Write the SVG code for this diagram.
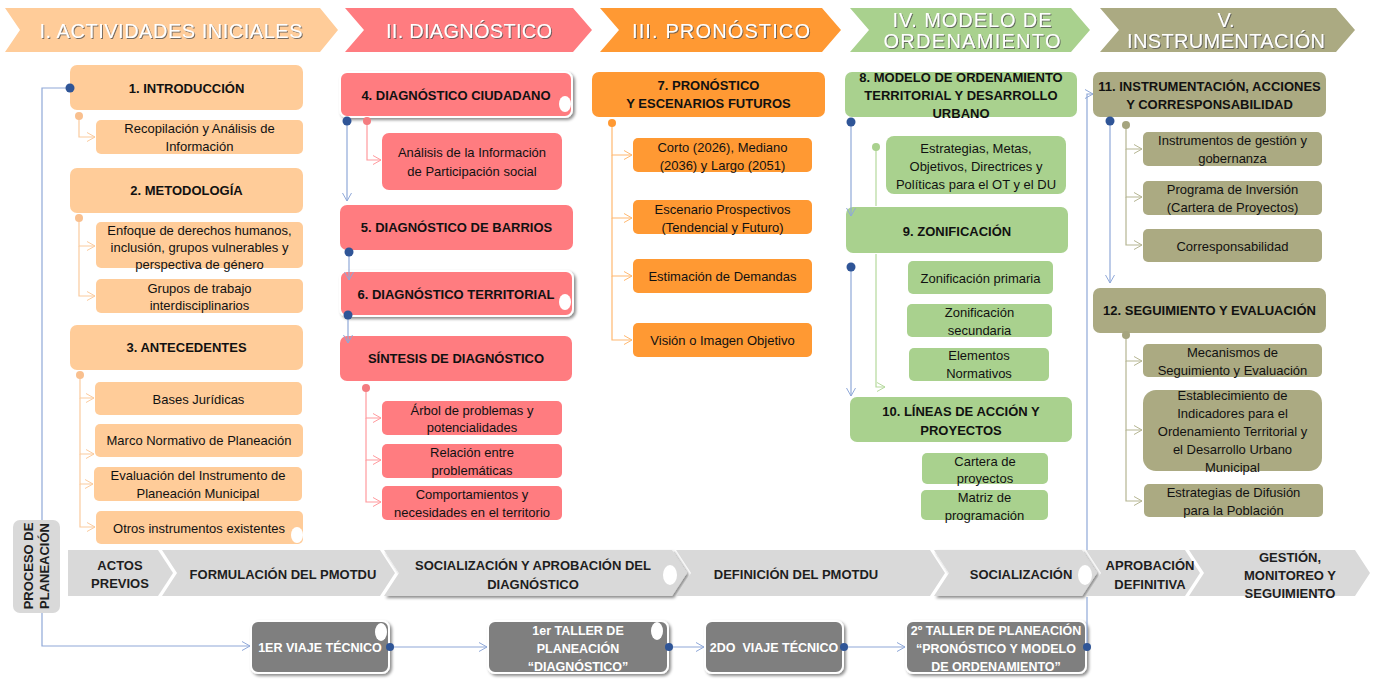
<svg xmlns="http://www.w3.org/2000/svg" width="1379" height="680" viewBox="0 0 1379 680">
<style>
text{font-family:"Liberation Sans",Arial,sans-serif;text-anchor:middle}
.hd{font-size:20px;fill:#fff;filter:url(#ts)}
.h{font-size:13px;font-weight:bold;fill:#111}
.t{font-size:13px;fill:#111}
.bd{font-size:13px;font-weight:bold;fill:#1e1e1e}
.w{font-size:12.5px;font-weight:bold;fill:#fff}
.pe{fill:#FFCC99}.pk{fill:#FF7C80}.or{fill:#FF9933}.gr{fill:#A9D18E}.ol{fill:#ABAA82}
.band{fill:#D9D9D9}
.gb{fill:#7F7F7F;stroke:#fff;stroke-width:2;filter:url(#sh)}
.cb{fill:none;stroke:#8FA8D8;stroke-width:1.2}
.cpe{fill:none;stroke:#FBCB9E;stroke-width:1.2}
.cpk{fill:none;stroke:#FF9A9D;stroke-width:1.2}
.cor{fill:none;stroke:#FFB870;stroke-width:1.2}
.cgr{fill:none;stroke:#B5D99C;stroke-width:1.2}
.col{fill:none;stroke:#B5B592;stroke-width:1.2}
.el{fill:#fff}
</style>
<defs>
<filter id="ts" x="-5%" y="-30%" width="110%" height="160%"><feDropShadow dx="1" dy="1" stdDeviation="0.6" flood-color="#555" flood-opacity="0.8"/></filter>
<filter id="sh" x="-10%" y="-20%" width="120%" height="150%"><feDropShadow dx="2" dy="2" stdDeviation="1.8" flood-color="#000" flood-opacity="0.45"/></filter>
<marker id="aB" markerWidth="10" markerHeight="10" refX="9" refY="5" orient="auto" markerUnits="userSpaceOnUse"><path d="M1,0.5 L9,5 L1,9.5" fill="none" stroke="#8FA8D8" stroke-width="1"/></marker>
<marker id="aPe" markerWidth="10" markerHeight="10" refX="9" refY="5" orient="auto" markerUnits="userSpaceOnUse"><path d="M1,0.5 L9,5 L1,9.5" fill="none" stroke="#FBCB9E" stroke-width="1"/></marker>
<marker id="aPk" markerWidth="10" markerHeight="10" refX="9" refY="5" orient="auto" markerUnits="userSpaceOnUse"><path d="M1,0.5 L9,5 L1,9.5" fill="none" stroke="#FF9A9D" stroke-width="1"/></marker>
<marker id="aOr" markerWidth="10" markerHeight="10" refX="9" refY="5" orient="auto" markerUnits="userSpaceOnUse"><path d="M1,0.5 L9,5 L1,9.5" fill="none" stroke="#FFB870" stroke-width="1"/></marker>
<marker id="aGr" markerWidth="10" markerHeight="10" refX="9" refY="5" orient="auto" markerUnits="userSpaceOnUse"><path d="M1,0.5 L9,5 L1,9.5" fill="none" stroke="#B5D99C" stroke-width="1"/></marker>
<marker id="aOl" markerWidth="10" markerHeight="10" refX="9" refY="5" orient="auto" markerUnits="userSpaceOnUse"><path d="M1,0.5 L9,5 L1,9.5" fill="none" stroke="#B5B592" stroke-width="1"/></marker>
</defs>
<rect width="1379" height="680" fill="#fff"/>

<!-- Phase headers -->
<g id="phase1"><polygon points="5,8 320,8 338,30 320,52 5,52 20,30" fill="#FFCC99"/><text class="hd" x="171" y="38" textLength="263">I. ACTIVIDADES INICIALES</text></g>
<g id="phase2"><polygon points="345,8 573,8 592,30 573,52 345,52 364,30" fill="#FF7C80"/><text class="hd" x="469" y="38" textLength="166">II. DIAGNÓSTICO</text></g>
<g id="phase3"><polygon points="600,8 822,8 841,30 822,52 600,52 619,30" fill="#FF9933"/><text class="hd" x="721" y="38" textLength="178">III. PRONÓSTICO</text></g>
<g id="phase4"><polygon points="850,8 1071,8 1090,30 1071,52 850,52 869,30" fill="#A9D18E"/><text class="hd" x="972" y="27" textLength="159">IV. MODELO DE</text><text class="hd" x="972" y="48" textLength="177">ORDENAMIENTO</text></g>
<g id="phase5"><polygon points="1100,8 1336,8 1355,30 1336,52 1100,52 1119,30" fill="#ABAA82"/><text class="hd" x="1226" y="27">V.</text><text class="hd" x="1226" y="48" textLength="198">INSTRUMENTACIÓN</text></g>

<!-- Column I -->
<g id="n1"><rect class="pe" x="70" y="65" width="233" height="45" rx="7"/><text class="h" x="186.5" y="92.5">1. INTRODUCCIÓN</text></g>
<g id="n1a"><rect class="pe" x="96" y="120" width="207" height="34" rx="5"/><text class="t" x="199.5" y="132.5">Recopilación y Análisis de</text><text class="t" x="199.5" y="150.5">Información</text></g>
<g id="n2"><rect class="pe" x="70" y="168" width="233" height="45" rx="7"/><text class="h" x="186.5" y="195">2. METODOLOGÍA</text></g>
<g id="n2a"><rect class="pe" x="96" y="222" width="207" height="46" rx="5"/><text class="t" x="199.5" y="234.5">Enfoque de derechos humanos,</text><text class="t" x="199.5" y="251.5">inclusión, grupos vulnerables y</text><text class="t" x="199.5" y="268.5">perspectiva de género</text></g>
<g id="n2b"><rect class="pe" x="96" y="279" width="207" height="34" rx="5"/><text class="t" x="199.5" y="292.5">Grupos de trabajo</text><text class="t" x="199.5" y="309.5">interdisciplinarios</text></g>
<g id="n3"><rect class="pe" x="70" y="325" width="233" height="45" rx="7"/><text class="h" x="186.5" y="352">3. ANTECEDENTES</text></g>
<g id="n3a"><rect class="pe" x="95" y="382" width="207" height="33" rx="5"/><text class="t" x="198.5" y="403.5">Bases Jurídicas</text></g>
<g id="n3b"><rect class="pe" x="95" y="424" width="208" height="33" rx="5"/><text class="t" x="199" y="444.5">Marco Normativo de Planeación</text></g>
<g id="n3c"><rect class="pe" x="94" y="467" width="208" height="34" rx="5"/><text class="t" x="198" y="479.5">Evaluación del Instrumento de</text><text class="t" x="198" y="497.5">Planeación Municipal</text></g>
<g id="n3d"><rect class="pe" x="96" y="511" width="207" height="33" rx="5"/><text class="t" x="199" y="532.5">Otros instrumentos existentes</text><ellipse class="el" cx="297" cy="535" rx="6" ry="8"/></g>

<!-- Column II -->
<g id="n4"><rect class="pk" x="340" y="72" width="232" height="45" rx="7" stroke="#fff" stroke-width="2" filter="url(#sh)"/><text class="h" x="456" y="99.5">4. DIAGNÓSTICO CIUDADANO</text><ellipse class="el" cx="565" cy="104" rx="6" ry="8"/></g>
<g id="n4a"><rect class="pk" x="382" y="133" width="180" height="57" rx="7"/><text class="t" x="472" y="156.5">Análisis de la Información</text><text class="t" x="472" y="175.5">de Participación social</text></g>
<g id="n5"><rect class="pk" x="340" y="205" width="233" height="45" rx="7"/><text class="h" x="456.5" y="232">5. DIAGNÓSTICO DE BARRIOS</text></g>
<g id="n6"><rect class="pk" x="340" y="271" width="233" height="45" rx="7" stroke="#fff" stroke-width="2" filter="url(#sh)"/><text class="h" x="456" y="298.5">6. DIAGNÓSTICO TERRITORIAL</text><ellipse class="el" cx="565" cy="302" rx="6" ry="8"/></g>
<g id="n6s"><rect class="pk" x="340" y="336" width="232" height="45" rx="7"/><text class="h" x="456" y="363">SÍNTESIS DE DIAGNÓSTICO</text></g>
<g id="n6a"><rect class="pk" x="382" y="401" width="180" height="34" rx="5"/><text class="t" x="472" y="414.5">Árbol de problemas y</text><text class="t" x="472" y="431.5">potencialidades</text></g>
<g id="n6b"><rect class="pk" x="382" y="444" width="180" height="34" rx="5"/><text class="t" x="472" y="456.5">Relación entre</text><text class="t" x="472" y="474.5">problemáticas</text></g>
<g id="n6c"><rect class="pk" x="382" y="486" width="180" height="34" rx="5"/><text class="t" x="472" y="498.5">Comportamientos y</text><text class="t" x="472" y="516.5">necesidades en el territorio</text></g>

<!-- Column III -->
<g id="n7"><rect class="or" x="592" y="72" width="233" height="45" rx="7"/><text class="h" x="708.5" y="89.5">7. PRONÓSTICO</text><text class="h" x="708.5" y="107.5">Y ESCENARIOS FUTUROS</text></g>
<g id="n7a"><rect class="or" x="633" y="138" width="179" height="34" rx="5"/><text class="t" x="722.5" y="151.5">Corto (2026), Mediano</text><text class="t" x="722.5" y="169.5">(2036) y Largo (2051)</text></g>
<g id="n7b"><rect class="or" x="633" y="200" width="179" height="34" rx="5"/><text class="t" x="722.5" y="213.5">Escenario Prospectivos</text><text class="t" x="722.5" y="231.5">(Tendencial y Futuro)</text></g>
<g id="n7c"><rect class="or" x="633" y="259" width="179" height="34" rx="5"/><text class="t" x="722.5" y="280.5">Estimación de Demandas</text></g>
<g id="n7d"><rect class="or" x="633" y="323" width="179" height="34" rx="5"/><text class="t" x="722.5" y="344.5">Visión o Imagen Objetivo</text></g>

<!-- Column IV -->
<g id="n8"><rect class="gr" x="845" y="72" width="232" height="45" rx="7"/><text class="h" x="961" y="81.5">8. MODELO DE ORDENAMIENTO</text><text class="h" x="961" y="99.5">TERRITORIAL Y DESARROLLO</text><text class="h" x="961" y="117.5">URBANO</text></g>
<g id="n8a"><rect class="gr" x="886" y="136" width="180" height="58" rx="8"/><text class="t" x="976" y="152.5">Estrategias, Metas,</text><text class="t" x="976" y="170.5">Objetivos, Directrices y</text><text class="t" x="976" y="188.5">Políticas para el OT y el DU</text></g>
<g id="n9"><rect class="gr" x="846" y="207" width="222" height="46" rx="7"/><text class="h" x="957" y="235.5">9. ZONIFICACIÓN</text></g>
<g id="n9a"><rect class="gr" x="908" y="261" width="145" height="33" rx="5"/><text class="t" x="980.5" y="282.5">Zonificación primaria</text></g>
<g id="n9b"><rect class="gr" x="907" y="304" width="145" height="33" rx="5"/><text class="t" x="979.5" y="316.5">Zonificación</text><text class="t" x="979.5" y="334.5">secundaria</text></g>
<g id="n9c"><rect class="gr" x="909" y="348" width="140" height="33" rx="5"/><text class="t" x="979" y="359.5">Elementos</text><text class="t" x="979" y="377.5">Normativos</text></g>
<g id="n10"><rect class="gr" x="850" y="397" width="222" height="45" rx="7"/><text class="h" x="961" y="415.5">10. LÍNEAS DE ACCIÓN Y</text><text class="h" x="961" y="434.5">PROYECTOS</text></g>
<g id="n10a"><rect class="gr" x="922" y="453" width="126" height="31" rx="5"/><text class="t" x="985" y="465.5">Cartera de</text><text class="t" x="985" y="482.5">proyectos</text></g>
<g id="n10b"><rect class="gr" x="921" y="490" width="127" height="30" rx="5"/><text class="t" x="984.5" y="501.5">Matriz de</text><text class="t" x="984.5" y="519.5">programación</text></g>

<!-- Column V -->
<g id="n11"><rect class="ol" x="1093" y="72" width="233" height="45" rx="7"/><text class="h" x="1209.5" y="90.5">11. INSTRUMENTACIÓN, ACCIONES</text><text class="h" x="1209.5" y="108.5">Y CORRESPONSABILIDAD</text></g>
<g id="n11a"><rect class="ol" x="1143" y="132" width="179" height="34" rx="5"/><text class="t" x="1232.5" y="144.5">Instrumentos de gestión y</text><text class="t" x="1232.5" y="162.5">gobernanza</text></g>
<g id="n11b"><rect class="ol" x="1143" y="181" width="179" height="34" rx="5"/><text class="t" x="1232.5" y="193.5">Programa de Inversión</text><text class="t" x="1232.5" y="211.5">(Cartera de Proyectos)</text></g>
<g id="n11c"><rect class="ol" x="1143" y="229" width="179" height="33" rx="5"/><text class="t" x="1232.5" y="250.5">Corresponsabilidad</text></g>
<g id="n12"><rect class="ol" x="1093" y="288" width="233" height="45" rx="7"/><text class="h" x="1209.5" y="314.5">12. SEGUIMIENTO Y EVALUACIÓN</text></g>
<g id="n12a"><rect class="ol" x="1143" y="344" width="179" height="33" rx="5"/><text class="t" x="1232.5" y="356.5">Mecanismos de</text><text class="t" x="1232.5" y="374.5">Seguimiento y Evaluación</text></g>
<g id="n12b"><rect class="ol" x="1143" y="390" width="179" height="81" rx="13"/><text class="t" x="1232.5" y="399.5">Establecimiento de</text><text class="t" x="1232.5" y="417.5">Indicadores para el</text><text class="t" x="1232.5" y="435.5">Ordenamiento Territorial y</text><text class="t" x="1232.5" y="453.5">el Desarrollo Urbano</text><text class="t" x="1232.5" y="471.5">Municipal</text></g>
<g id="n12c"><rect class="ol" x="1144" y="484" width="179" height="33" rx="5"/><text class="t" x="1233.5" y="496.5">Estrategias de Difusión</text><text class="t" x="1233.5" y="514.5">para la Población</text></g>

<!-- Process band -->
<g id="proceso"><rect class="band" x="13" y="520" width="47" height="93" rx="7"/><text class="bd" transform="translate(36,566) rotate(-90)"><tspan x="0" y="-3">PROCESO DE</tspan><tspan x="0" y="13">PLANEACIÓN</tspan></text></g>
<g id="s1"><polygon class="band" points="68,550 158,550 173,573 158,596 68,596"/><text class="bd" x="120" y="569.5">ACTOS</text><text class="bd" x="120" y="587.5">PREVIOS</text></g>
<g id="s2"><polygon class="band" points="162,550 380,550 395,573 380,596 162,596 177,573"/><text class="bd" x="283" y="578.5">FORMULACIÓN DEL PMOTDU</text></g>
<g id="s3"><polygon class="band" points="384,550 672,550 687,573 672,596 384,596 399,573" filter="url(#sh)"/><text class="bd" x="533" y="569.5">SOCIALIZACIÓN Y APROBACIÓN DEL</text><text class="bd" x="533" y="588.5">DIAGNÓSTICO</text><ellipse class="el" cx="670" cy="575" rx="7" ry="10"/></g>
<g id="s4"><polygon class="band" points="676,550 930,550 945,573 930,596 676,596 691,573"/><text class="bd" x="796" y="578.5">DEFINICIÓN DEL PMOTDU</text></g>
<g id="s5"><polygon class="band" points="934,550 1082,550 1097,573 1082,596 934,596 949,573" filter="url(#sh)"/><text class="bd" x="1021" y="578.5">SOCIALIZACIÓN</text><ellipse class="el" cx="1085" cy="575" rx="7" ry="10"/></g>
<g id="s6"><polygon class="band" points="1086,550 1185,550 1200,573 1185,596 1086,596 1101,573"/><text class="bd" x="1150" y="569.5">APROBACIÓN</text><text class="bd" x="1150" y="588.5">DEFINITIVA</text></g>
<g id="s7"><polygon class="band" points="1189,550 1355,550 1370,573 1355,596 1189,596 1204,573"/><text class="bd" x="1290" y="561.5">GESTIÓN,</text><text class="bd" x="1290" y="579.5">MONITOREO Y</text><text class="bd" x="1290" y="597.5">SEGUIMIENTO</text></g>

<!-- Events -->
<g id="e1"><rect class="gb" x="251" y="621" width="138" height="52" rx="7"/><text class="w" x="320" y="651.5">1ER VIAJE TÉCNICO</text><ellipse class="el" cx="381" cy="632" rx="6" ry="9"/></g>
<g id="e2"><rect class="gb" x="488" y="621" width="180" height="52" rx="7"/><text class="w" x="578" y="634.5">1er TALLER DE</text><text class="w" x="578" y="652.5">PLANEACIÓN</text><text class="w" x="578" y="670.5">“DIAGNÓSTICO”</text><ellipse class="el" cx="657" cy="631" rx="6" ry="9"/></g>
<g id="e3"><rect class="gb" x="705" y="621" width="138" height="52" rx="7"/><text class="w" x="774" y="651.5">2DO&#160; VIAJE TÉCNICO</text></g>
<g id="e4"><rect class="gb" x="906" y="621" width="180" height="52" rx="7"/><text class="w" x="996" y="634.5">2º TALLER DE PLANEACIÓN</text><text class="w" x="996" y="652.5">“PRONÓSTICO Y MODELO</text><text class="w" x="996" y="670.5">DE ORDENAMIENTO”</text></g>

<!-- Connectors -->
<g id="connectors">
<path class="cb" d="M70,88 H42 V520"/>
<path class="cb" d="M42,613 V646 H250" marker-end="url(#aB)"/>
<path class="cb" d="M390,647 H487" marker-end="url(#aB)"/>
<path class="cb" d="M669,647 H704" marker-end="url(#aB)"/>
<path class="cb" d="M844,647 H905" marker-end="url(#aB)"/>
<path class="cb" d="M1087,647 V597"/>
<path class="cb" d="M1087,550 V94 H1093" marker-end="url(#aB)"/>
<path class="cb" d="M347,121 V201" marker-end="url(#aB)"/>
<path class="cb" d="M349,252 V280" marker-end="url(#aB)"/>
<path class="cb" d="M348,315 V343" marker-end="url(#aB)"/>
<path class="cb" d="M851,122 V216" marker-end="url(#aB)"/>
<path class="cb" d="M851,267 V396" marker-end="url(#aB)"/>
<path class="cb" d="M1110,121 V283" marker-end="url(#aB)"/>

<path class="cpe" d="M79,116 V137 H95" marker-end="url(#aPe)"/>
<path class="cpe" d="M79,218 V246 H95" marker-end="url(#aPe)"/>
<path class="cpe" d="M79,246 V296 H95" marker-end="url(#aPe)"/>
<path class="cpe" d="M80,375 V398 H94" marker-end="url(#aPe)"/>
<path class="cpe" d="M80,398 V454 H94" marker-end="url(#aPe)"/>
<path class="cpe" d="M80,454 V484 H93" marker-end="url(#aPe)"/>
<path class="cpe" d="M80,484 V527 H95" marker-end="url(#aPe)"/>

<path class="cpk" d="M367,121 V160 H381" marker-end="url(#aPk)"/>
<path class="cpk" d="M366,388 V418 H381" marker-end="url(#aPk)"/>
<path class="cpk" d="M366,418 V460 H381" marker-end="url(#aPk)"/>
<path class="cpk" d="M366,460 V502 H381" marker-end="url(#aPk)"/>

<path class="cor" d="M612,123 V155 H632" marker-end="url(#aOr)"/>
<path class="cor" d="M612,155 V218 H632" marker-end="url(#aOr)"/>
<path class="cor" d="M612,218 V276 H632" marker-end="url(#aOr)"/>
<path class="cor" d="M612,276 V340 H632" marker-end="url(#aOr)"/>

<path class="cgr" d="M876,147 V206"/>
<path class="cgr" d="M876,254 V387 H885" marker-end="url(#aGr)"/>

<path class="col" d="M1126,125 V149 H1142" marker-end="url(#aOl)"/>
<path class="col" d="M1126,149 V197 H1142" marker-end="url(#aOl)"/>
<path class="col" d="M1126,197 V245 H1142" marker-end="url(#aOl)"/>
<path class="col" d="M1126,335 V361 H1142" marker-end="url(#aOl)"/>
<path class="col" d="M1126,361 V430 H1142" marker-end="url(#aOl)"/>
<path class="col" d="M1126,430 V501 H1142" marker-end="url(#aOl)"/>

<g fill="#2F5597">
<circle cx="70" cy="88" r="4.5"/><circle cx="347" cy="121" r="4.5"/><circle cx="349" cy="252" r="4.5"/><circle cx="348" cy="315" r="4.5"/>
<circle cx="851" cy="122" r="4.5"/><circle cx="851" cy="267" r="4.5"/><circle cx="1110" cy="121" r="4.5"/>
<circle cx="390" cy="647" r="4"/><circle cx="669" cy="647" r="4"/><circle cx="844" cy="647" r="4"/><circle cx="1087" cy="647" r="4"/>
</g>
<g fill="#F9C08F"><circle cx="79" cy="116" r="4"/><circle cx="79" cy="218" r="4"/><circle cx="80" cy="375" r="4"/></g>
<g fill="#F47C80"><circle cx="367" cy="121" r="4"/><circle cx="366" cy="388" r="4"/></g>
<circle cx="612" cy="123" r="4" fill="#FF9933"/>
<circle cx="876" cy="147" r="4" fill="#A9D18E"/>
<g fill="#A5A47E"><circle cx="1126" cy="125" r="4"/><circle cx="1126" cy="335" r="4"/></g>
</g>
</svg>
